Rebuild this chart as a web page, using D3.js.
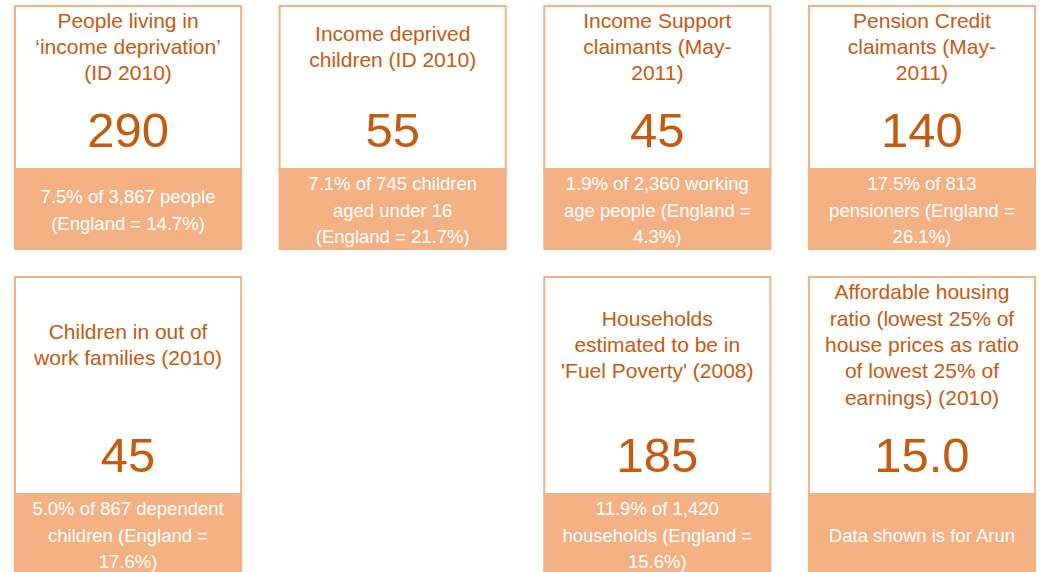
<!DOCTYPE html>
<html lang="en">
<head>
    <meta charset="utf-8"/>
    <title>Deprivation cards</title>
    <script src="https://d3js.org/d3.v7.min.js"></script>
    <style>
        body { margin: 0; background: #fff; }
    </style>
</head>
<body>
<script>

    // one entry per grid slot, null = empty slot
    var titles = [
        ["People living in", "\u2018income deprivation\u2019", "(ID 2010)"],
        ["Income deprived", "children (ID 2010)"],
        ["Income Support", "claimants (May-", "2011)"],
        ["Pension Credit", "claimants (May-", "2011)"],
        ["Children in out of", "work families (2010)"],
        null,
        ["Households", "estimated to be in", "'Fuel Poverty' (2008)"],
        ["Affordable housing", "ratio (lowest 25% of", "house prices as ratio", "of lowest 25% of", "earnings) (2010)"]
    ];

    var values = ["290", "55", "45", "140", "45", null, "185", "15.0"];

    var notes = [
        ["7.5% of 3,867 people", "(England = 14.7%)"],
        ["7.1% of 745 children", "aged under 16", "(England = 21.7%)"],
        ["1.9% of 2,360 working", "age people (England =", "4.3%)"],
        ["17.5% of 813", "pensioners (England =", "26.1%)"],
        ["5.0% of 867 dependent", "children (England =", "17.6%)"],
        null,
        ["11.9% of 1,420", "households (England =", "15.6%)"],
        ["Data shown is for Arun"]
    ];

    var width = 1040;
    var height = 572;
    var textColor = "#c55a11";
    var lightColor = "#f4b183";
    var font = "'Liberation Sans', Arial, Helvetica, sans-serif";

    var rowTop = [5, 276];
    var rowBody = [163, 217];
    var footH = 82;

    var svg = d3.select("body")
                .append("svg")
                .attr("width", width)
                .attr("height", height)
                .style("font-family", font);

    var x = d3.scaleBand()
              .domain([0, 1, 2, 3])
              .range([14, 1036])
              .paddingInner(0.138);

    var cards = d3.range(titles.length)
                  .filter(function(i){ return titles[i] !== null; })
                  .map(function(i){
                      return {col: i % 4, row: Math.floor(i / 4),
                              title: titles[i], value: values[i], note: notes[i]};
                  });

    var g = svg.selectAll("g.card")
               .data(cards)
               .enter()
               .append("g")
               .attr("class", "card")
               .attr("transform", function(d){
                   return "translate(" + x(d.col) + "," + rowTop[d.row] + ")";
               });

    var w = x.bandwidth();

    g.append("rect")
     .attr("x", 1)
     .attr("y", 1)
     .attr("width", w - 2)
     .attr("height", function(d){ return rowBody[d.row] + 2; })
     .attr("fill", "#fff")
     .attr("stroke", lightColor)
     .attr("stroke-width", 2);

    g.append("rect")
     .attr("x", 0)
     .attr("y", function(d){ return rowBody[d.row]; })
     .attr("width", w)
     .attr("height", footH)
     .attr("fill", lightColor);

    // title block centred above the number, note block centred in the footer
    g.each(function(d){
        var el = d3.select(this);
        var cy = (rowBody[d.row] - 80) / 2;
        var lh = 26.3;
        var y0 = cy - (d.title.length - 1) * lh / 2 + 7.5;
        el.selectAll("text.title")
          .data(d.title)
          .enter()
          .append("text")
          .attr("class", "title")
          .attr("x", w / 2)
          .attr("y", function(t, i){ return y0 + i * lh; })
          .attr("text-anchor", "middle")
          .attr("font-family", font)
          .attr("font-size", "21px")
          .attr("fill", textColor)
          .text(function(t){ return t; });

        var fy = rowBody[d.row] + footH / 2;
        var f0 = fy - (d.note.length - 1) * lh / 2 + 7.5;
        el.selectAll("text.note")
          .data(d.note)
          .enter()
          .append("text")
          .attr("class", "note")
          .attr("x", w / 2)
          .attr("y", function(t, i){ return f0 + i * lh; })
          .attr("text-anchor", "middle")
          .attr("font-family", font)
          .attr("font-size", "18.5px")
          .attr("fill", "#fff")
          .text(function(t){ return t; });
    });

    g.append("text")
     .attr("x", w / 2)
     .attr("y", function(d){ return rowBody[d.row] - 21.5; })
     .attr("text-anchor", "middle")
     .attr("font-family", font)
     .attr("font-size", "49px")
     .attr("fill", textColor)
     .text(function(d){ return d.value; });

</script>
</body>
</html>
